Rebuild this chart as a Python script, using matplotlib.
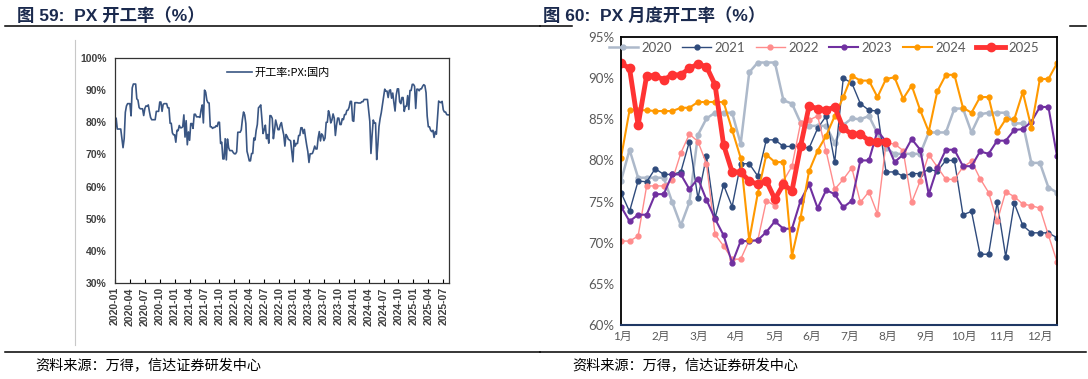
import numpy as np
import matplotlib
matplotlib.use("Agg")
import matplotlib.pyplot as plt
from matplotlib.lines import Line2D

# weekly PX operating rate (%), one list per year
years = ["2020", "2021", "2022", "2023", "2024", "2025"]
y2020 = [77.5, 81.3, 77.9, 77.9, 77.9, 77.9, 74.9, 72.1, 74.9, 83.1,
         85.1, 85.8, 85.8, 85.8, 82.0, 90.7, 91.9, 91.9, 91.9, 87.3,
         86.9, 84.6, 84.2, 84.2, 84.2, 82.1, 84.3, 85.1, 85.0, 85.4,
         83.3, 81.5, 80.8, 80.8, 80.8, 80.8, 83.4, 83.4, 83.4, 86.3,
         86.3, 83.4, 85.6, 85.8, 85.8, 85.8, 84.5, 84.5, 79.7, 79.7,
         76.7, 76.1]
y2021 = [76.1, 73.8, 77.5, 77.4, 79.0, 78.3, 78.3, 78.6, 82.3, 75.4,
         80.5, 73.0, 77.0, 74.4, 79.6, 79.6, 78.1, 82.5, 82.5, 81.7,
         81.7, 81.7, 81.5, 83.9, 85.4, 79.8, 90.0, 89.4, 86.9, 86.1,
         86.0, 78.6, 78.6, 78.1, 78.4, 78.4, 78.9, 78.7, 80.0, 80.0,
         73.4, 73.8, 68.6, 68.6, 74.9, 68.3, 74.8, 72.1, 71.2, 71.2,
         71.2, 70.6]
y2022 = [70.2, 70.2, 70.8, 76.9, 76.9, 76.9, 77.6, 80.9, 83.2, 82.3,
         79.6, 71.0, 69.6, 68.0, 68.0, 70.3, 70.3, 75.1, 74.5, 77.5,
         79.3, 84.5, 84.9, 85.4, 81.1, 76.5, 77.7, 79.1, 74.9, 76.2,
         73.5, 82.1, 82.0, 81.2, 74.9, 77.5, 80.7, 79.2, 77.7, 77.7,
         79.2, 79.9, 77.8, 76.1, 72.6, 76.2, 75.6, 74.7, 74.5, 74.2,
         70.9, 67.7]
y2023 = [74.4, 72.6, 73.4, 73.4, 75.9, 75.9, 78.3, 78.3, 76.5, 77.8,
         75.2, 72.9, 70.9, 67.5, 70.2, 70.2, 70.3, 71.3, 72.6, 71.7,
         71.7, 75.1, 77.1, 74.2, 76.4, 75.9, 74.3, 75.1, 80.0, 80.0,
         83.6, 82.3, 79.8, 80.7, 82.6, 81.3, 75.9, 79.1, 81.3, 81.3,
         79.3, 79.3, 81.1, 80.8, 82.4, 82.4, 83.7, 83.8, 84.7, 86.5,
         86.5, 80.5]
y2024 = [80.3, 86.1, 86.1, 86.1, 86.0, 86.0, 86.0, 86.4, 86.4, 87.1,
         87.1, 87.1, 87.1, 83.7, 80.3, 70.3, 76.0, 80.7, 79.8, 79.8,
         68.4, 73.0, 78.7, 81.2, 83.0, 85.4, 87.7, 90.3, 89.7, 89.7,
         87.7, 89.9, 90.1, 87.5, 89.1, 86.1, 83.5, 88.4, 90.4, 90.4,
         86.4, 85.8, 87.7, 87.7, 83.4, 85.0, 85.0, 88.3, 84.0, 89.9,
         89.9, 91.8]
y2025 = [91.8, 91.2, 84.3, 90.3, 90.3, 89.8, 90.4, 90.4, 91.2, 91.7,
         91.4, 89.2, 81.9, 78.6, 78.6, 77.5, 77.1, 77.5, 75.3, 77.1,
         76.3, 81.7, 86.6, 86.3, 86.1, 86.5, 83.9, 83.2, 83.2, 82.4,
         82.3, 82.3]
months = ["1月", "2月", "3月", "4月", "5月", "6月",
          "7月", "8月", "9月", "10月", "11月", "12月"]

series = [y2020, y2021, y2022, y2023, y2024, y2025]
colors = ["#ADB9CA", "#2F4B7C", "#FF8C8C", "#7030A0", "#FF9900", "#FF3333"]
widths = [1.8, 1.0, 1.0, 1.5, 1.5, 3.5]
msizes = [3.5, 3.5, 3.5, 3.5, 3.5, 6.0]

W, H = 1088, 379


def fx(px):
    return px / W


def fy(py):
    return 1 - py / H


cjk = ["Noto Sans CJK SC", "DejaVu Sans"]
title_font = ["Liberation Sans", "Noto Sans CJK SC"]
right_font = ["Lato", "Noto Sans CJK SC"]

fig = plt.figure(figsize=(W / 100, H / 100), dpi=100)

# titles, rules and source notes
fig.text(fx(17), fy(15), "图 59:  PX 开工率（%）", family=title_font,
         fontsize=12.5, fontweight="bold", color="#1B2A4E", va="center")
fig.text(fx(543), fy(15), "图 60:  PX 月度开工率（%）", family=title_font,
         fontsize=12.5, fontweight="bold", color="#1B2A4E", va="center")
for x0, x1, yy in [(5, 540, 25.5), (540, 572, 25.5), (1070, 1086, 25.5),
                   (5, 540, 352), (540, 1086, 352)]:
    fig.add_artist(Line2D([fx(x0), fx(x1)], [fy(yy), fy(yy)],
                          transform=fig.transFigure, color="black", lw=1.1))
fig.add_artist(Line2D([fx(75), fx(75)], [fy(40), fy(345)],
                      transform=fig.transFigure, color="#C8C8C8", lw=0.8))
fig.text(fx(35), fy(366), "资料来源：万得，信达证券研发中心", family=cjk,
         fontsize=10.2, va="center")
fig.text(fx(572), fy(366), "资料来源：万得，信达证券研发中心", family=cjk,
         fontsize=10.2, va="center")

# left panel: full weekly history
ax1 = fig.add_axes([fx(115), fy(283), 334 / W, 225 / H])
hist = np.concatenate([np.array(s) for s in series])
ax1.plot(np.arange(len(hist)), hist, color="#3A5683", lw=1.2,
         label="开工率:PX:国内")
ax1.set_xlim(0, len(hist) - 1)
ax1.set_ylim(30, 100)
ax1.set_yticks(np.arange(30, 101, 10))
ax1.set_yticklabels([f"{v}%" for v in range(30, 101, 10)],
                    family="Liberation Sans", fontweight="bold",
                    fontsize=7.5, color="#404040")
mpos = np.arange(0, 67, 3)
ax1.set_xticks(mpos * 52 / 12)
ax1.set_xticklabels([f"{2020 + m // 12}-{m % 12 + 1:02d}" for m in mpos],
                    rotation=90, family="Liberation Sans", fontweight="bold",
                    fontsize=7.6, color="#404040")
ax1.tick_params(axis="x", direction="in", length=3, pad=3)
ax1.tick_params(axis="y", length=0, pad=6)
for sp in ax1.spines.values():
    sp.set_color("#333333")
    sp.set_linewidth(0.9)
ax1.legend(loc="center", bbox_to_anchor=(0.49, 0.933), frameon=False,
           prop={"family": cjk, "size": 8}, handlelength=2.2,
           handletextpad=0.3)

# right panel: one line per year
ax2 = fig.add_axes([fx(621), fy(325), 436 / W, 288 / H])
handles = []
for name, s, c, lw, ms in zip(years, series, colors, widths, msizes):
    h, = ax2.plot(np.arange(len(s)), s, color=c, lw=lw, marker="o",
                  ms=ms, label=name)
    handles.append(h)
ax2.set_xlim(0, 51)
ax2.set_ylim(60, 95)
ax2.set_yticks(np.arange(60, 96, 5))
ax2.set_yticklabels([f"{v}%" for v in range(60, 96, 5)], family=right_font,
                    fontsize=9.5, color="#595959")
ax2.set_xticks(np.arange(12) * 4.43 + 0.2)
ax2.set_xticklabels(months, family=right_font, fontsize=8.5, color="#595959")
ax2.tick_params(length=0, pad=5)
ax2.tick_params(axis="x", pad=4)
for side in ["left", "top", "right"]:
    ax2.spines[side].set_color("black")
    ax2.spines[side].set_linewidth(1.3)
ax2.spines["bottom"].set_color("#1F3864")
ax2.spines["bottom"].set_linewidth(1.5)
fig.legend(handles=handles, loc="center", bbox_to_anchor=(fx(824), fy(48)),
           ncol=6, frameon=False, prop={"family": right_font, "size": 9.5},
           handlelength=2.2, handletextpad=0.25, columnspacing=0.8,
           labelcolor="#595959")

fig.savefig("out.png", dpi=100)
